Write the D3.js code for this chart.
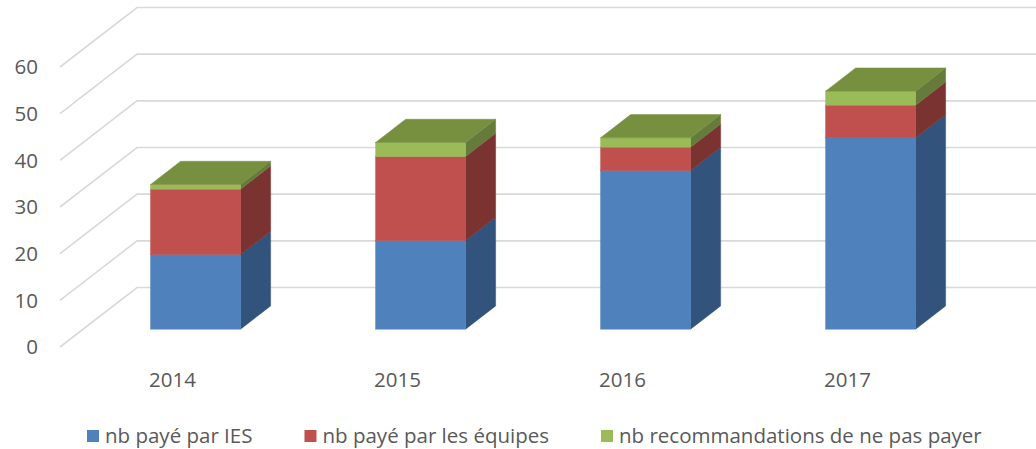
<!DOCTYPE html>
<html>
<head>
<meta charset="utf-8">
<script src="https://cdn.jsdelivr.net/npm/d3@7"></script>
<style>
  html, body { margin: 0; padding: 0; background: #fff; }
  svg { display: block; font-family: "Open Sans", sans-serif; }
</style>
</head>
<body>
<svg id="chart" width="1036" height="449"></svg>
<script>
// ---- data ----
const categories = ["2014", "2015", "2016", "2017"];
const seriesNames = ["nb payé par IES", "nb payé par les équipes", "nb recommandations de ne pas payer"];
const paidByIES = [16, 19, 34, 41];
const paidByTeams = [14, 18, 5, 7];
const notToPay = [1, 3, 2, 3];
const yTicks = [0, 10, 20, 30, 40, 50, 60];

// ---- styles ----
const frontColors = ["#4F81BD", "#C0504D", "#9BBB59"];
const sideColors = ["#32537C", "#7B3331", "#667B3B"];
const topColor = "#77903F";
const textColor = "#595959";
const gridColor = "#D9D9D9";
const fontSize = 20.5;

const svg = d3.select("#chart");

// front plane geometry
const y = d3.scaleLinear().domain([0, 60]).range([347, 67]);
const x = d3.scaleBand().domain(categories).range([60, 960]).paddingInner(0.6).paddingOuter(0.3);
const xSlot = d3.scaleBand().domain(categories).range([60, 960]);
// oblique depth vector (full floor depth)
const DX = 77, DY = -59.5;
const P = (px, v, d) => [px + d * DX, y(v) + d * DY];
const d0 = 0.30, d1 = 0.69;

// gridlines: side wall diagonal + back wall horizontal
const grid = svg.append("g");
yTicks.forEach(v => {
  const a = P(60, v, 0), b = P(60, v, 1), c = [1040, b[1]];
  grid.append("polyline")
    .attr("points", [a, b, c].map(p => p.join(",")).join(" "))
    .attr("fill", "none").attr("stroke", gridColor).attr("stroke-width", 1.6);
});

// y axis labels
svg.append("g").selectAll("text").data(yTicks).join("text")
  .attr("x", 38).attr("y", d => y(d)).attr("dy", "0.35em")
  .attr("text-anchor", "end").attr("fill", textColor).attr("font-size", fontSize)
  .text(d => d);

// stacked data
const rows = categories.map((c, i) => ({ cat: c, s0: paidByIES[i], s1: paidByTeams[i], s2: notToPay[i] }));
const stacked = d3.stack().keys(["s0", "s1", "s2"])(rows);

const bars = svg.append("g");
categories.forEach((cat, i) => {
  const xl = x(cat), xr = x(cat) + x.bandwidth();
  const g = bars.append("g");
  stacked.forEach((layer, k) => {
    const [v0, v1] = layer[i];
    const side = [P(xr, v0, d0), P(xr, v0, d1), P(xr, v1, d1), P(xr, v1, d0)];
    g.append("polygon").attr("points", side.map(p => p.join(",")).join(" "))
      .attr("fill", sideColors[k]).attr("stroke", sideColors[k]).attr("stroke-width", 0.5);
    const f0 = P(xl, v1, d0), f1 = P(xr, v0, d0);
    g.append("rect").attr("x", f0[0]).attr("y", f0[1])
      .attr("width", f1[0] - f0[0]).attr("height", f1[1] - f0[1])
      .attr("fill", frontColors[k]).attr("stroke", frontColors[k]).attr("stroke-width", 0.5);
  });
  const topV = stacked[stacked.length - 1][i][1];
  const top = [P(xl, topV, d0), P(xr, topV, d0), P(xr, topV, d1), P(xl, topV, d1)];
  g.append("polygon").attr("points", top.map(p => p.join(",")).join(" "))
    .attr("fill", topColor).attr("stroke", topColor).attr("stroke-width", 0.5);
});

// category labels
svg.append("g").selectAll("text").data(categories).join("text")
  .attr("x", d => xSlot(d) + xSlot.bandwidth() / 2).attr("y", 387)
  .attr("text-anchor", "middle").attr("fill", textColor).attr("font-size", fontSize)
  .text(d => d);

// legend
const legend = svg.append("g");
let lx = 87;
seriesNames.forEach((name, k) => {
  legend.append("rect").attr("x", lx).attr("y", 430).attr("width", 12).attr("height", 12)
    .attr("fill", frontColors[k]);
  const t = legend.append("text").attr("x", lx + 18).attr("y", 442.5)
    .attr("fill", textColor).attr("font-size", fontSize).text(name);
  lx += 18 + t.node().getComputedTextLength() + 52;
});
</script>
</body>
</html>
